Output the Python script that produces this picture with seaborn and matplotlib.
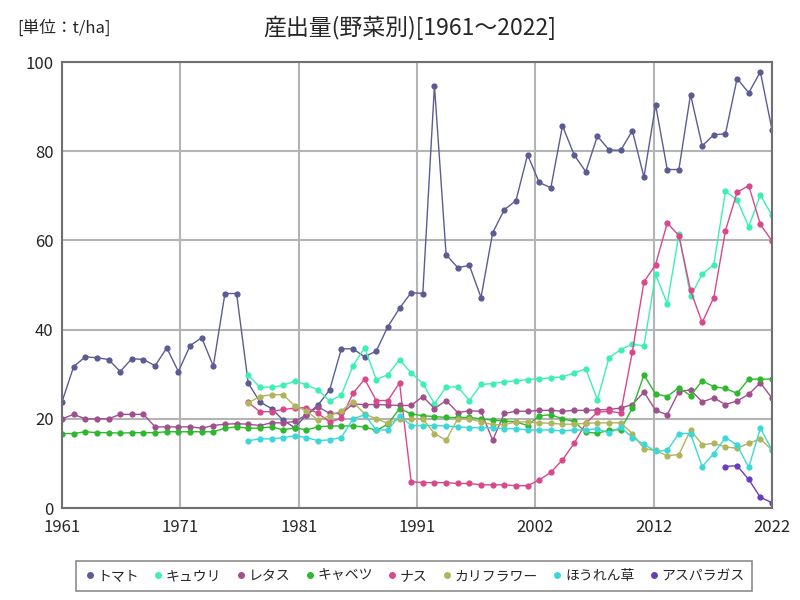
import numpy as np
import pandas as pd
import matplotlib
matplotlib.use("Agg")
import matplotlib.pyplot as plt
from matplotlib.lines import Line2D
import seaborn as sns

# years and values (t/ha)
years = list(range(1961, 2023))
nan = np.nan

tomato = [23.8, 31.7, 33.9, 33.7, 33.3, 30.6, 33.5, 33.3, 31.9, 35.9,
          30.6, 36.4, 38.2, 31.8, 48.1, 48.1, 28.0, 23.8, 22.3, 19.7,
          18.0, 20.9, 23.1, 26.5, 35.7, 35.7, 33.9, 35.2, 40.7, 44.8,
          48.3, 48.1, 94.7, 56.8, 53.9, 54.4, 47.2, 61.7, 66.9, 68.9,
          79.2, 73.0, 71.8, 85.7, 79.2, 75.4, 83.4, 80.3, 80.2, 84.6,
          74.2, 90.4, 75.9, 75.9, 92.7, 81.2, 83.7, 83.9, 96.3, 93.1,
          97.8, 84.8]
cucumber = [nan] * 16 + [29.8, 27.1, 27.1, 27.5,
            28.5, 27.6, 26.5, 24.0, 25.3, 31.9, 35.9, 28.8, 29.9, 33.3,
            30.3, 27.9, 23.4, 27.1, 27.2, 24.1, 27.7, 27.9, 28.3, 28.5,
            28.8, 29.0, 29.2, 29.4, 30.3, 31.2, 24.3, 33.7, 35.5, 36.8,
            36.3, 52.4, 45.8, 61.4, 47.5, 52.4, 54.6, 71.0, 69.1, 63.1,
            70.2, 65.6]
lettuce = [20.0, 21.0, 20.0, 20.0, 20.0, 21.0, 21.0, 21.0, 18.2, 18.2,
           18.2, 18.2, 17.9, 18.5, 18.8, 18.9, 18.8, 18.5, 19.1, 19.1,
           19.4, 20.9, 22.7, 21.2, 21.2, 23.3, 23.2, 23.2, 23.1, 23.0,
           23.0, 25.0, 22.3, 24.1, 21.4, 21.8, 21.7, 15.2, 21.2, 21.7,
           21.7, 21.9, 21.9, 21.7, 21.9, 21.9, 22.0, 22.1, 22.4, 23.2,
           26.0, 21.9, 20.9, 26.1, 26.5, 23.8, 24.7, 23.2, 24.0, 25.5,
           28.1, 24.6]
cabbage = [16.7, 16.7, 17.1, 16.9, 16.9, 16.8, 16.9, 16.9, 16.9, 17.1,
           17.1, 17.1, 17.1, 17.1, 17.9, 18.2, 17.9, 17.9, 18.2, 17.5,
           18.0, 17.5, 18.2, 18.4, 18.4, 18.4, 18.2, 17.4, 18.8, 22.3,
           21.1, 20.7, 20.5, 20.3, 20.3, 20.3, 20.0, 19.7, 19.5, 19.3,
           18.5, 20.7, 20.9, 20.0, 19.4, 17.0, 16.8, 17.4, 17.6, 22.4,
           29.8, 25.6, 25.0, 27.0, 25.2, 28.5, 27.2, 26.8, 25.7, 28.9,
           28.9, 28.9]
eggplant = [nan] * 16 + [23.7, 21.6, 21.6, 22.1,
            22.4, 22.5, 21.2, 19.3, 20.1, 25.7, 28.9, 24.1, 24.1, 28.1,
            5.9, 5.7, 5.7, 5.7, 5.5, 5.5, 5.2, 5.2, 5.2, 5.0,
            5.0, 6.3, 8.0, 10.8, 14.5, 19.0, 21.5, 21.7, 21.3, 35.0,
            50.7, 54.6, 63.9, 61.1, 48.8, 41.6, 47.2, 62.2, 70.8, 72.3,
            63.6, 59.9]
cauliflower = [nan] * 16 + [23.6, 25.0, 25.4, 25.4,
               22.9, 21.8, 19.7, 20.7, 21.8, 23.8, 21.1, 20.0, 19.0, 20.0,
               20.0, 20.0, 16.7, 15.2, 20.0, 20.0, 19.3, 18.7, 18.7, 19.3,
               19.3, 19.1, 19.0, 18.8, 18.8, 19.0, 19.1, 19.1, 19.1, 16.7,
               13.3, 12.9, 11.7, 12.0, 17.5, 14.2, 14.5, 13.7, 13.4, 14.5,
               15.5, 13.0]
spinach = [nan] * 16 + [15.1, 15.5, 15.5, 15.8,
           16.2, 15.8, 15.1, 15.3, 15.8, 20.0, 20.9, 17.5, 17.5, 20.7,
           18.5, 18.5, 18.5, 18.4, 18.2, 18.0, 18.0, 18.0, 17.8, 17.8,
           17.5, 17.5, 17.5, 17.3, 17.5, 17.5, 17.8, 16.8, 18.1, 15.8,
           14.3, 12.7, 12.9, 16.7, 16.7, 9.3, 12.2, 15.8, 14.1, 9.1,
           17.9, 13.0]
asparagus = [nan] * 57 + [9.3, 9.5, 6.4, 2.4, 1.2]

names = ["トマト", "キュウリ", "レタス", "キャベツ", "ナス", "カリフラワー", "ほうれん草", "アスパラガス"]
colors = ["#5c5c94", "#3cf0b4", "#a0508c", "#2eb82e", "#d9488c", "#b0b55c", "#3cd8d8", "#6a3cbf"]
series = [tomato, cucumber, lettuce, cabbage, eggplant, cauliflower, spinach, asparagus]

x_labels = ["1961", "1971", "1981", "1991", "2002", "2012", "2022"]

sns.set_style("white")
plt.rcParams["font.family"] = ["Noto Sans CJK JP", "DejaVu Sans"]

fig = plt.figure(figsize=(8, 6), dpi=100)
ax = fig.add_axes([0.0775, 0.1533, 0.8875, 0.7433])

for name, vals, col in zip(names, series, colors):
    df = pd.DataFrame({"year": years, "value": vals}).dropna()
    sns.lineplot(data=df, x="year", y="value", ax=ax, color=col, linewidth=1,
                 marker="o", markersize=4.5, markeredgewidth=0, label=name)

ax.set_xlim(1961, 2022)
ax.set_ylim(0, 100)
ax.set_xticks(np.linspace(1961, 2022, 7))
ax.set_xticklabels(x_labels)
ax.set_yticks([0, 20, 40, 60, 80, 100])
ax.tick_params(labelsize=12, length=0)
ax.tick_params(axis="x", pad=8)
ax.tick_params(axis="y", pad=6)
ax.set_xlabel("")
ax.set_ylabel("")
ax.grid(True, color="#b4b4b4", linewidth=1.5)
ax.set_axisbelow(True)
for sp in ax.spines.values():
    sp.set_color("#707070")
    sp.set_linewidth(1.5)

ax.get_legend().remove()
handles = [Line2D([], [], linestyle="none", marker="o", markersize=5,
                  markeredgewidth=0, color=c) for c in colors]
leg = fig.legend(handles, names, loc="center", bbox_to_anchor=(0.518, 0.04),
                 ncol=8, frameon=True, fontsize=10, handletextpad=0.15,
                 columnspacing=1.0, handlelength=0.8, borderpad=0.55,
                 fancybox=False)
leg.get_frame().set_edgecolor("#707070")
leg.get_frame().set_linewidth(1.2)

fig.text(0.5125, 0.953, "産出量(野菜別)[1961～2022]", ha="center", va="center", fontsize=16.5)
fig.text(0.022, 0.953, "[単位：t/ha]", ha="left", va="center", fontsize=12)

fig.savefig("out.png", dpi=100)
